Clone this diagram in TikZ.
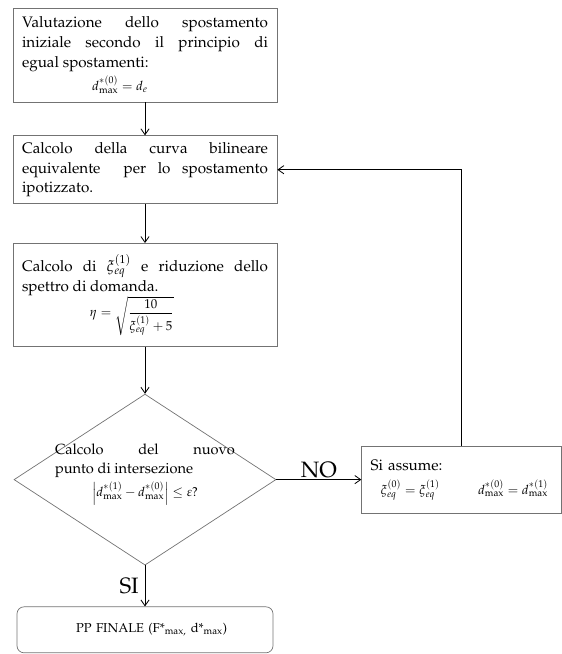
\documentclass[tikz,border=0pt]{standalone}
\usepackage[T1]{fontenc}
\usepackage{mathpazo}
\usepackage{amsmath}
\usetikzlibrary{positioning, arrows.meta, shapes.geometric}

\newcommand{\formula}[1]{{\fontsize{11}{13}\selectfont$#1$}}

\begin{document}
\begin{tikzpicture}[
    box/.style={
        draw=black!55,
        rectangle,
        line width=0.6pt,
        text width=7.38cm,
        minimum width=7.92cm,
        align=justify,   % <-- justified text, lines broken as in the scheme
        inner xsep=0.27cm,
        inner ysep=2pt,
        font={\fontsize{13}{17}\selectfont\hyphenpenalty=10000\parindent=0pt}
    },
    arr/.style={-{Straight Barb[length=5pt, width=7pt]}, line width=0.7pt},
    answer/.style={font=\fontsize{19}{22}\selectfont}
]
\useasboundingbox (0,0) rectangle (16.86,-19.62);

\node[box, minimum height=2.82cm] (valut) at (4.35,-1.65) {
    Valutazione dello spostamento\linebreak iniziale secondo il principio di\linebreak egual spostamenti:\par
    \vspace{3pt}\centerline{\formula{d^{*(0)}_{\max}=d_e}\hspace{1.5cm}}
};
\node[box, below=0.99cm of valut, minimum height=2.04cm] (curva) {
    Calcolo della curva bilineare\linebreak equivalente\ \ per lo spostamento\linebreak ipotizzato.
};
\node[box, below=1.17cm of curva, minimum height=3.09cm] (riduz) {
    Calcolo di $\xi^{(1)}_{eq}$ e riduzione dello\linebreak spettro di domanda.\par
    \centerline{\formula{\eta=\sqrt{\dfrac{10}{\xi^{(1)}_{eq}+5}}}\hspace{0.8cm}}
};

% decision
\node[
    draw=black!55,
    diamond,
    line width=0.6pt,
    minimum width=7.86cm,
    minimum height=5.13cm,
    inner sep=0pt,
    below=1.41cm of riduz
] (inters) {};
\node[box, draw=none, text width=5.4cm, minimum width=0pt, yshift=0.15cm,
      font={\fontsize{12.5}{16}\selectfont\hyphenpenalty=10000\parindent=0pt}] (intersTesto) at (inters) {
    Calcolo del nuovo\linebreak punto di intersezione\par
    \vspace{3pt}\centerline{\formula{\left|d^{*(1)}_{\max}-d^{*(0)}_{\max}\right|\le\varepsilon?}}
};

\node[box, right=2.55cm of inters, minimum width=6.0cm, text width=5.46cm, minimum height=2.01cm, align=left] (assume) {
    Si assume:\par
    \vspace{4pt}\mbox{\hspace{0.3cm}\formula{\xi^{(0)}_{eq}=\xi^{(1)}_{eq}}\hspace{1.15cm}\formula{d^{*(0)}_{\max}=d^{*(1)}_{\max}}}
};
\node[box, rounded corners=6pt, below=1.23cm of inters, minimum width=7.68cm, text width=7.14cm, minimum height=1.38cm, align=center,
      font=\fontsize{11}{13}\selectfont] (finale) {
    \hspace*{0.4cm}PP FINALE (F*\textsubscript{max,} d*\textsubscript{max})
};

\draw[arr] (valut) -- (curva);
\draw[arr] (curva) -- (riduz);
\draw[arr] (riduz) -- (inters);
\draw[arr] (inters) -- node[above, answer, inner sep=1pt] (no) {NO} (assume);
\draw[arr] (inters) -- node[left, answer, inner sep=5pt] (si) {SI} (finale);
\draw[arr] (assume.north) |- (curva.east);
\end{tikzpicture}
\end{document}
